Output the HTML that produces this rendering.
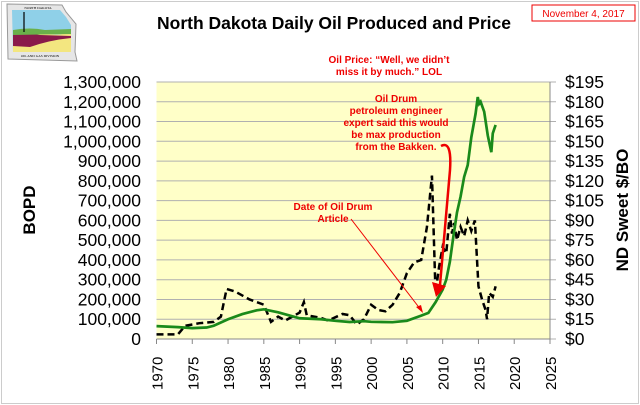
<!DOCTYPE html>
<html><head><meta charset="utf-8"><style>
html,body{margin:0;padding:0;background:#fff}
svg{display:block;font-family:"Liberation Sans",Arial,sans-serif}
</style></head><body>
<svg id="chart" width="640" height="405" viewBox="0 0 640 405" xmlns="http://www.w3.org/2000/svg">
<rect x="1.5" y="1.5" width="637" height="402" fill="#fff" stroke="#ccc"/>
<g>
<path d="M7,4 L62,5 L66,12 L76,24 L75,52 L77,61 L8,59 Z" fill="#e6e6e6" stroke="#999"/>
<path d="M12,10 L60,10 L66,17 L71,25 L71,52 L13,52 Z" fill="#8fd0e8"/>
<path d="M13,31 Q30,29 45,33 T71,31 L71,52 L13,52 Z" fill="#f3e680"/>
<path d="M13,34 Q25,32 40,35 L71,36 L71,38 Q50,40 30,47 L13,46 Z" fill="#8a1a4a"/>
<path d="M13,30 Q30,27 45,30 L71,29 L71,34 L13,35 Z" fill="#6ab04a"/>
<line x1="24" y1="12" x2="24" y2="32" stroke="#000" stroke-width="1.2"/>
<text x="38" y="9" font-size="3.5" text-anchor="middle" font-family="Liberation Serif">NORTH DAKOTA</text>
<text x="40" y="57" font-size="3.5" text-anchor="middle" font-family="Liberation Serif">OIL AND GAS DIVISION</text>
</g>
<text x="334" y="29" font-size="17.5" font-weight="bold" text-anchor="middle">North Dakota Daily Oil Produced and Price</text>
<rect x="532" y="5" width="103" height="16" fill="#fff" stroke="#e00"/>
<text x="583.5" y="17" font-size="10" fill="#e00" text-anchor="middle">November 4, 2017</text>
<rect x="156.5" y="82" width="393.5" height="257" fill="#ffffc8"/>
<g id="grid"></g>
<g id="axes"></g>
<g id="series"></g>
<text transform="translate(35,210) rotate(-90)" font-size="17" font-weight="bold" text-anchor="middle">BOPD</text>
<text transform="translate(628,210) rotate(-90)" font-size="17" font-weight="bold" text-anchor="middle">ND Sweet $/BO</text>
<g fill="#e00" font-size="10" font-weight="bold" text-anchor="middle">
<text x="389" y="63">Oil Price: “Well, we didn’t</text>
<text x="389" y="75">miss it by much.” LOL</text>
<text x="396" y="102">Oil Drum</text>
<text x="396" y="114">petroleum engineer</text>
<text x="396" y="126">expert said this would</text>
<text x="396" y="138">be max production</text>
<text x="396" y="150">from the Bakken.</text>
<text x="333" y="210">Date of Oil Drum</text>
<text x="333" y="222">Article</text>
</g>
<path d="M441,146 Q452,140 450,170 L440,285" fill="none" stroke="#e00" stroke-width="2.5"/>
<polygon points="432,282 446,286 436,297" fill="#e00"/>
<line x1="351" y1="219" x2="421" y2="310" stroke="#e00" stroke-width="1"/>
<polygon points="423,313 416,307 421,305" fill="#e00"/>
</svg>
<script>
const xYears=[1970,1975,1980,1985,1990,1995,2000,2005,2010,2015,2020,2025];
const bopdTicks=[0,100000,200000,300000,400000,500000,600000,700000,800000,900000,1000000,1100000,1200000,1300000];
const priceTicks=[0,15,30,45,60,75,90,105,120,135,150,165,180,195];
const prodYears=[1970,1973,1975,1977,1978,1980,1982,1984,1985,1987,1990,1993,1995,1997,1999,2000,2003,2005,2007,2008,2009,2010,2010.5,2011,2011.5,2012,2012.5,2013,2013.5,2014,2014.6,2014.9,2015.1,2015.3,2015.8,2016.3,2016.8,2017,2017.4];
const prodValues=[65000,60000,55000,58000,67000,100000,126000,145000,150000,135000,105000,100000,92000,86000,90000,87000,85000,92000,118000,132000,186000,250000,300000,390000,520000,640000,720000,820000,880000,1020000,1140000,1224000,1190000,1200000,1150000,1030000,945000,1040000,1083000];
const priceYears=[1970,1973,1974,1976,1978,1979,1979.8,1981,1983,1985,1986,1987,1988,1989,1990,1990.6,1991,1993,1994,1996,1997,1998,1999,2000,2001,2002,2003,2004,2005,2006,2007,2007.8,2008.5,2009,2009.5,2010,2010.5,2011,2011.3,2011.6,2012,2012.5,2013,2013.5,2014,2014.5,2015,2015.5,2016,2016.2,2016.5,2017,2017.4];
const priceValues=[3.5,3.5,10,12,13,17,38,36,30,26,13,17,14,17,20,28,18,16,14,19,18,11,15,26,22,21,26,35,50,58,60,85,124,35,55,70,65,95,80,88,75,85,78,90,82,90,40,30,22,15,35,32,40];
const X=y=>156.5+(y-1970)*(393.5/55);
const YL=v=>339-v*(257/1300000);
const YR=v=>339-v*(257/195);
const NS='http://www.w3.org/2000/svg';
function mk(t,a,p){const e=document.createElementNS(NS,t);for(const k in a)e.setAttribute(k,a[k]);p.appendChild(e);return e;}
const grid=document.getElementById('grid'),axes=document.getElementById('axes'),ser=document.getElementById('series');
bopdTicks.forEach((v,i)=>{
 const y=YL(v);
 const l=mk('line',{x1:156.5,x2:556,y1:y,y2:y,stroke:'#b0b0b0','stroke-width':1},grid);
 
 
 const t=mk('text',{x:141,y:y+6,'font-size':17.5,'text-anchor':'end'},axes);
 t.textContent=v.toLocaleString('en-US');
 
 
 const r=mk('text',{x:565,y:YR(priceTicks[i])+6,'font-size':17.5},axes);
 r.textContent='$'+priceTicks[i];
 
 
});
mk('line',{x1:156.5,x2:550,y1:339,y2:339,stroke:'#888'},axes);
mk('line',{x1:550,x2:550,y1:82,y2:339,stroke:'#888'},axes);
xYears.forEach(yr=>{
 const x=X(yr);
 mk('line',{x1:x,x2:x,y1:339,y2:344,stroke:'#888'},axes);
 const t=mk('text',{transform:`translate(${x+6},390) rotate(-90)`,'font-size':15},axes);
 t.textContent=yr;
 
 
});
const pp=mk('polyline',{points:priceYears.map((y,i)=>X(y)+','+YR(priceValues[i])).join(' '),fill:'none',stroke:'#000','stroke-width':2.5,'stroke-dasharray':'7,4'},ser);


const gp=mk('polyline',{points:prodYears.map((y,i)=>X(y)+','+YL(prodValues[i])).join(' '),fill:'none',stroke:'#1a8a1a','stroke-width':2.7},ser);


</script>
</body></html>
